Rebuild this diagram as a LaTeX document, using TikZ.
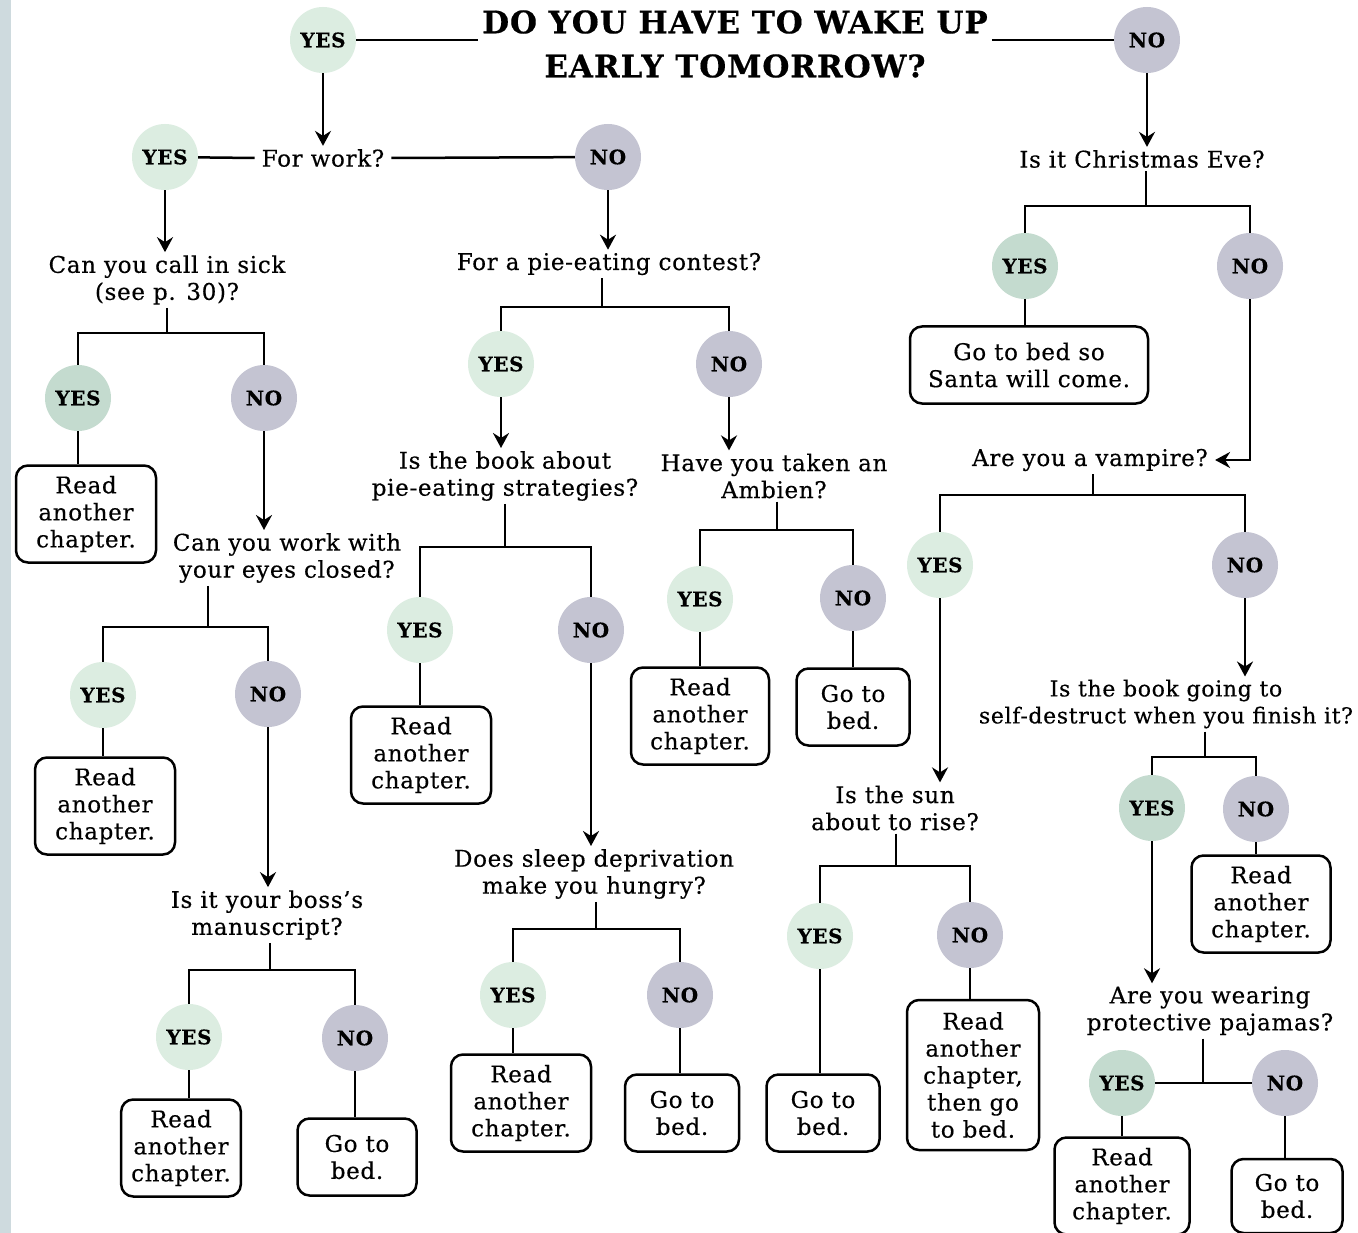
\documentclass[tikz,border=0pt]{standalone}
\usepackage{fontspec}
\setmainfont{DejaVu Serif}[FakeBold=0.4, LetterSpace=3]
\usetikzlibrary{arrows.meta}
\definecolor{yesc}{RGB}{220,237,225}
\definecolor{yesd}{RGB}{196,219,207}
\definecolor{noc}{RGB}{196,196,210}
\definecolor{gutter}{RGB}{206,218,222}
\begin{document}
\begin{tikzpicture}[x=1pt,y=-1pt,
  yes/.style={circle, fill=yesc, minimum size=66pt, inner sep=0pt, font=\fontsize{20}{24}\selectfont\bfseries},
  yesdk/.style={yes, fill=yesd},
  no/.style={circle, fill=noc, minimum size=66pt, inner sep=0pt, font=\fontsize{20}{24}\selectfont\bfseries},
  qq/.style={align=center, font=\fontsize{23}{27}\selectfont, inner sep=3pt},
  box/.style={draw, line width=2.5pt, rounded corners=12pt, align=center, font=\fontsize{23}{27}\selectfont, inner xsep=10pt, inner ysep=9pt},
  readbox/.style={box, minimum width=140pt, minimum height=97pt},
  gobox/.style={box, minimum width=114pt, minimum height=77pt},
  ln/.style={line width=2.5pt},
  arr/.style={line width=2.5pt, -{Stealth[length=15pt,width=16pt,inset=5pt]}}]
\useasboundingbox[fill=white] (0,0) rectangle (1358,1233);
\fill[gutter] (0,0) rectangle (11,1233);

% title
\node[align=center, font=\fontsize{31}{44}\selectfont\bfseries, inner xsep=4pt] (title) at (735,44) {DO YOU HAVE TO WAKE UP\\EARLY TOMORROW?};

% circles
\node[yes] (y1) at (323,40) {YES};   \node[no] (n1) at (1147,40) {NO};
\node[yes] (y2) at (165,157) {YES};  \node[no] (n2) at (608,157) {NO};
\node[yesdk] (y3) at (78,398) {YES}; \node[no] (n3) at (264,398) {NO};
\node[yes] (y4) at (103,695) {YES};  \node[no] (n4) at (268,694) {NO};
\node[yes] (y5) at (189,1037) {YES}; \node[no] (n5) at (355,1038) {NO};
\node[yes] (y6) at (501,364) {YES};  \node[no] (n6) at (729,364) {NO};
\node[yes] (y7) at (420,630) {YES};  \node[no] (n7) at (591,630) {NO};
\node[yes] (y8) at (513,995) {YES};  \node[no] (n8) at (680,995) {NO};
\node[yes] (y9) at (700,599) {YES};  \node[no] (n9) at (853,598) {NO};
\node[yesdk] (y10) at (1025,266) {YES}; \node[no] (n10) at (1250,266) {NO};
\node[yes] (y11) at (940,565) {YES}; \node[no] (n11) at (1245,565) {NO};
\node[yes] (y12) at (820,936) {YES}; \node[no] (n12) at (970,935) {NO};
\node[yesdk] (y13) at (1152,808) {YES}; \node[no] (n13) at (1256,809) {NO};
\node[yesdk] (y14) at (1122,1083) {YES}; \node[no] (n14) at (1285,1083) {NO};

% questions
\node[qq, inner xsep=7pt] (q1) at (323,158) {For work?};
\node[qq] (q2) at (167,280) {Can you call in sick\\(see p. 30)?};
\node[qq] (q3) at (287,558) {Can you work with\\your eyes closed?};
\node[qq] (q4) at (267,915) {Is it your boss’s\\manuscript?};
\node[qq] (q5) at (609,264) {For a pie-eating contest?};
\node[qq] (q6) at (505,476) {Is the book about\\pie-eating strategies?};
\node[qq] (q7) at (594,874) {Does sleep deprivation\\make you hungry?};
\node[qq] (q8) at (774,476) {Have you taken an\\Ambien?};
\node[qq] (q9) at (1142,159) {Is it Christmas Eve?};
\node[qq, inner xsep=7pt] (q10) at (1090,460) {Are you a vampire?};
\node[qq] (q11) at (895,808) {Is the sun\\about to rise?};
\node[qq, font=\fontsize{22}{27}\selectfont] (q12) at (1166,704) {Is the book going to\\self-destruct when you finish it?};
\node[qq] (q13) at (1210,1011) {Are you wearing\\protective pajamas?};

% outcome boxes
\node[readbox] (r3) at (86,514) {Read\\another\\chapter.};
\node[readbox] (r4) at (105,806) {Read\\another\\chapter.};
\node[readbox, minimum width=118pt] (r5) at (181,1148) {Read\\another\\chapter.};
\node[gobox, minimum width=119pt] (g5) at (357,1157) {Go to\\bed.};
\node[readbox] (r7) at (421,755) {Read\\another\\chapter.};
\node[readbox] (r8) at (521,1103) {Read\\another\\chapter.};
\node[gobox] (g8) at (682,1113) {Go to\\bed.};
\node[readbox, minimum width=138pt] (r9) at (700,716) {Read\\another\\chapter.};
\node[gobox, minimum width=113pt] (g9) at (853,707) {Go to\\bed.};
\node[box, minimum width=238pt, minimum height=77pt] (s10) at (1029,365) {Go to bed so\\Santa will come.};
\node[gobox, minimum width=113pt] (g12) at (823,1113) {Go to\\bed.};
\node[box, minimum width=132pt, minimum height=150pt] (r12) at (973,1075) {Read\\another\\chapter,\\then go\\to bed.};
\node[readbox, minimum width=139pt] (r13) at (1261,904) {Read\\another\\chapter.};
\node[readbox, minimum width=135pt] (r14) at (1122,1186) {Read\\another\\chapter.};
\node[gobox, minimum width=111pt, minimum height=74pt] (g14) at (1287,1196) {Go to\\bed.};

% junctions
\coordinate (j2) at (167,333);
\coordinate (j3) at (208,627);
\coordinate (j4) at (270,970);
\coordinate (j5) at (602,307);
\coordinate (j6) at (505,547);
\coordinate (j7) at (596,929);
\coordinate (j8) at (777,530);
\coordinate (j9) at (1146,206);
\coordinate (j10) at (1093,495);
\coordinate (j11) at (896,866);
\coordinate (j12) at (1205,757);
\coordinate (j13) at (1203,1083);

% top level
\draw[ln] (y1) -- (title.west |- y1);
\draw[ln] (title.east |- n1) -- (n1);
\draw[arr] (y1) -- (y1 |- q1.north);
\draw[arr] (n1) -- (n1 |- q9.north);
\draw[ln] (y2) -- (q1.west);
\draw[ln] (q1.east) -- (n2);
\draw[arr] (y2) -- (y2 |- q2.north);
\draw[arr] (n2) -- (n2 |- q5.north);

% left branch
\draw[ln] (j2 |- q2.south) -- (j2);
\draw[ln] (y3) |- (j2) -| (n3);
\draw[ln] (y3) -- (y3 |- r3.north);
\draw[arr] (n3) -- (n3 |- q3.north);
\draw[ln] (j3 |- q3.south) -- (j3);
\draw[ln] (y4) |- (j3) -| (n4);
\draw[ln] (y4) -- (y4 |- r4.north);
\draw[arr] (n4) -- (n4 |- q4.north);
\draw[ln] (j4 |- q4.south) -- (j4);
\draw[ln] (y5) |- (j4) -| (n5);
\draw[ln] (y5) -- (y5 |- r5.north);
\draw[ln] (n5) -- (n5 |- g5.north);

% middle branch
\draw[ln] (j5 |- q5.south) -- (j5);
\draw[ln] (y6) |- (j5) -| (n6);
\draw[arr] (y6) -- (y6 |- q6.north);
\draw[arr] (n6) -- (n6 |- q8.north);
\draw[ln] (j6 |- q6.south) -- (j6);
\draw[ln] (y7) |- (j6) -| (n7);
\draw[ln] (y7) -- (y7 |- r7.north);
\draw[arr] (n7) -- (n7 |- q7.north);
\draw[ln] (j7 |- q7.south) -- (j7);
\draw[ln] (y8) |- (j7) -| (n8);
\draw[ln] (y8) -- (y8 |- r8.north);
\draw[ln] (n8) -- (n8 |- g8.north);
\draw[ln] (j8 |- q8.south) -- (j8);
\draw[ln] (y9) |- (j8) -| (n9);
\draw[ln] (y9) -- (y9 |- r9.north);
\draw[ln] (n9) -- (n9 |- g9.north);

% right branch
\draw[ln] (j9 |- q9.south) -- (j9);
\draw[ln] (y10) |- (j9) -| (n10);
\draw[ln] (y10) -- (y10 |- s10.north);
\draw[arr] (n10) |- (q10.east);
\draw[ln] (j10 |- q10.south) -- (j10);
\draw[ln] (y11) |- (j10) -| (n11);
\draw[arr] (y11) -- (y11 |- q11.north);
\draw[arr] (n11) -- (n11 |- q12.north);
\draw[ln] (j11 |- q11.south) -- (j11);
\draw[ln] (y12) |- (j11) -| (n12);
\draw[ln] (y12) -- (y12 |- g12.north);
\draw[ln] (n12) -- (n12 |- r12.north);
\draw[ln] (j12 |- q12.south) -- (j12);
\draw[ln] (y13) |- (j12) -| (n13);
\draw[ln] (n13) -- (n13 |- r13.north);
\draw[arr] (y13) -- (y13 |- q13.north);
\draw[ln] (j13 |- q13.south) -- (j13);
\draw[ln] (y14) -- (n14);
\draw[ln] (y14) -- (y14 |- r14.north);
\draw[ln] (n14) -- (n14 |- g14.north);
\end{tikzpicture}
\end{document}
